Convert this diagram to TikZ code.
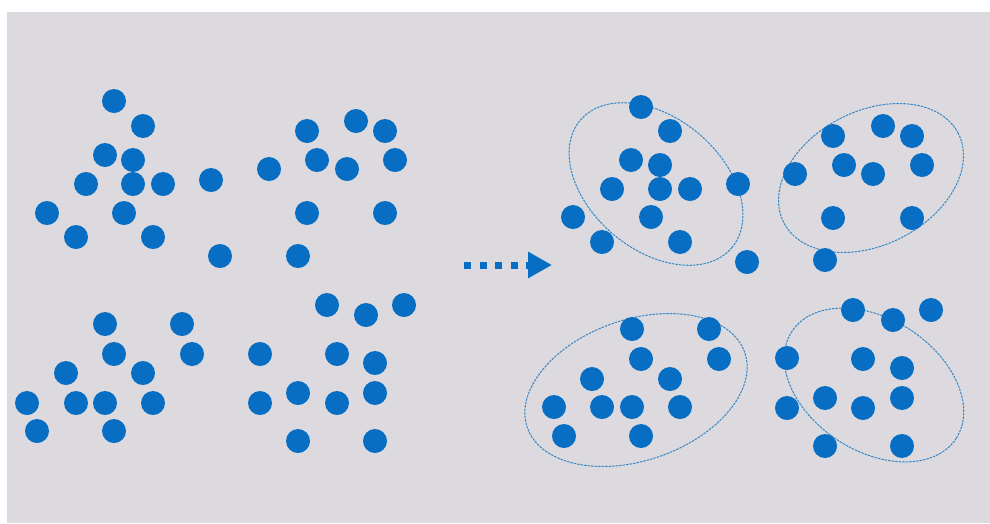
\documentclass[tikz,border=0pt]{standalone}
\usetikzlibrary{shapes.geometric,arrows.meta}
\definecolor{bg}{RGB}{220,218,222}
\definecolor{dotblue}{RGB}{8,110,195}
\definecolor{ellblue}{RGB}{55,135,198}
\tikzset{
  dot/.style={circle, fill=dotblue, draw=none, minimum size=24pt, inner sep=0pt, outer sep=0pt},
  clusterring/.style={ellipse, draw=ellblue, line width=1pt, dash pattern=on 2.5pt off 1pt, inner sep=0pt, outer sep=0pt, fill=none},
  flowarrow/.style={draw=dotblue, line width=7pt, dash pattern=on 7pt off 8.5pt, -{Triangle[length=24pt,width=25pt]}}
}
\begin{document}
\begin{tikzpicture}[x=1pt,y=-1pt]
\useasboundingbox (0,0) rectangle (990,523);
\fill[white] (0,0) rectangle (990,523);
\fill[bg] (7,12) rectangle (990,523);
% cluster rings
\node[clusterring, minimum width=198pt, minimum height=132pt, rotate=-40] (ringA) at (656,184) {};
\node[clusterring, minimum width=196pt, minimum height=134pt, rotate=27] (ringB) at (871,178) {};
\node[clusterring, minimum width=230pt, minimum height=141pt, rotate=19] (ringC) at (636,390) {};
\node[clusterring, minimum width=196pt, minimum height=132pt, rotate=-33] (ringD) at (874,385) {};
% left: unclustered points
\foreach \x/\y [count=\i] in {114/101,143/126,105/155,133/160,86/184,133/184,163/184,211/180,47/213,124/213,76/237,153/237,220/256,269/169,307/131,356/121,385/131,317/160,395/160,347/169,307/213,385/213,298/256}
  \node[dot] (p\i) at (\x,\y) {};
\foreach \x/\y [count=\i] in {105/324,182/324,114/354,192/354,66/373,143/373,27/403,76/403,105/403,153/403,37/431,114/431,260/354,260/403,298/393,298/441,327/305,366/315,404/305,337/354,375/363,375/393,337/403,375/441}
  \node[dot] (q\i) at (\x,\y) {};
% right: clustered points
\foreach \x/\y [count=\i] in {641/107,670/131,631/160,660/165,612/189,660/189,690/189,738/184,573/217,651/217,602/242,680/242,747/262}
  \node[dot] (a\i) at (\x,\y) {};
\foreach \x/\y [count=\i] in {833/136,883/126,912/136,844/165,873/174,922/165,795/174,833/218,912/218,825/260}
  \node[dot] (b\i) at (\x,\y) {};
\foreach \x/\y [count=\i] in {632/329,709/329,641/359,719/359,592/379,670/379,554/407,602/407,632/407,680/407,564/436,641/436}
  \node[dot] (c\i) at (\x,\y) {};
\foreach \x/\y [count=\i] in {853/310,893/320,931/310,787/358,863/359,902/368,787/408,825/398,863/408,902/398,825/446,902/446}
  \node[dot] (d\i) at (\x,\y) {};
% arrow
\coordinate (arrS) at (464,265);
\coordinate (arrE) at (552,265);
\draw[flowarrow] (arrS) -- (arrE);
\end{tikzpicture}
\end{document}
